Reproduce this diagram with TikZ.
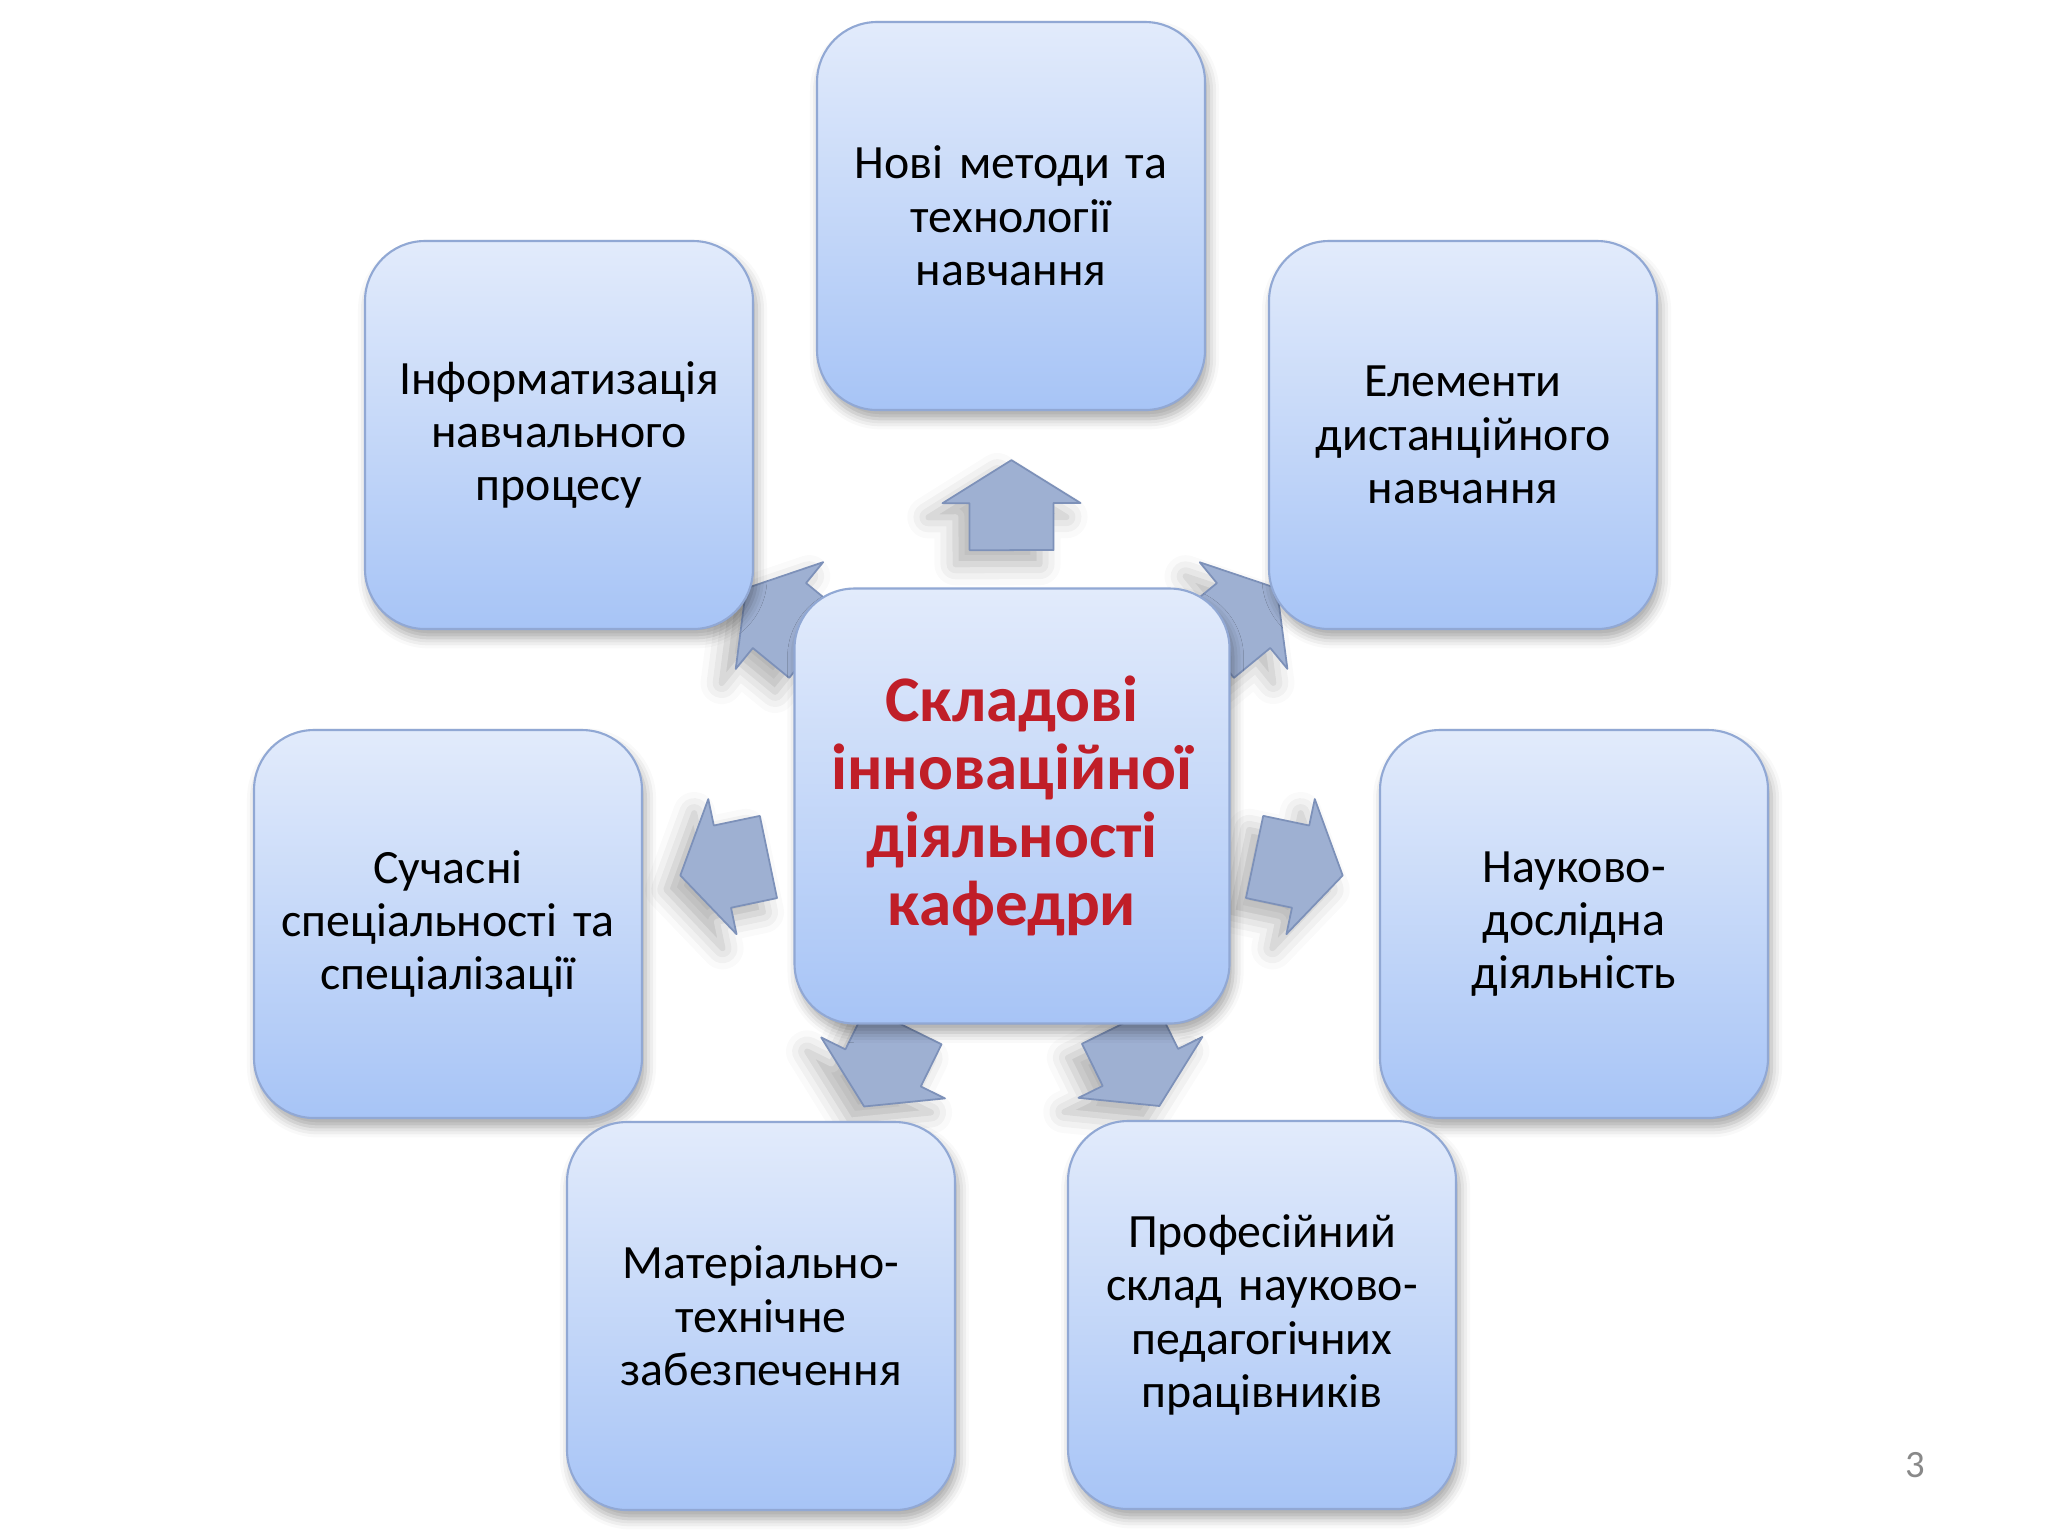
\documentclass[tikz,border=0pt]{standalone}
\usepackage{fontspec}
\setmainfont{Carlito}
\usetikzlibrary{shadows.blur,backgrounds}

\definecolor{boxtop}{RGB}{226,235,251}
\definecolor{boxbot}{RGB}{167,196,246}
\definecolor{boxline}{RGB}{145,168,212}
\definecolor{arrowfill}{RGB}{158,176,210}
\definecolor{arrowline}{RGB}{125,145,185}
\definecolor{titlered}{RGB}{192,30,40}
\definecolor{pagegrey}{RGB}{137,137,137}

\begin{document}
\begin{tikzpicture}[x=0.1mm, y=-0.1mm,
    part/.style = {rounded corners=0.6cm,
        draw=boxline, line width=0.6pt,
        top color=boxtop, bottom color=boxbot,
        minimum width=3.88cm, minimum height=3.88cm,
        text width=3.6cm, align=center,
        font=\fontsize{13.6}{15.2}\selectfont,
        blur shadow={shadow xshift=1pt, shadow yshift=-2.5pt,
            shadow blur radius=3pt, shadow opacity=35}},
    core/.style = {part,
        minimum width=4.35cm, minimum height=4.35cm,
        text width=4.1cm, text=titlered,
        font=\fontsize{18.5}{19.3}\selectfont\bfseries},
    barrow/.pic = {
        \filldraw[fill=arrowfill, draw=arrowline, line width=0.5pt,
            line join=round,
            blur shadow={shadow xshift=-4pt, shadow yshift=-4pt,
                shadow blur radius=6pt, shadow opacity=30}]
            (-45,-42) -- (2,-42) -- (2,-69) -- (45,0)
            -- (2,69) -- (2,42) -- (-45,42) -- cycle;
    }]

\useasboundingbox (0,0) rectangle (2048,1536);

% Centre
\node[core] (cent) at (1012,806) {Складові\\інноваційної\\діяльності\\кафедри};

% Components
\node[part] (nov) at (1011,216) {Нові методи та\\технології\\навчання};
\node[part] (inf) at (559,435) {Інформатизація\\навчального\\процесу};
\node[part] (dist) at (1463,435) {Елементи\\дистанційного\\навчання};
\node[part] (spec) at (448,924) {Сучасні\\спеціальності та\\спеціалізації};
\node[part] (nauk) at (1574,924) {Науково-\\дослідна\\діяльність};
\node[part] (mat) at (761,1316) {Матеріально-\\технічне\\забезпечення};
\node[part] (prof) at (1262,1315) {Професійний\\склад науково-\\педагогічних\\працівників};

% Arrows behind the boxes
\begin{pgfonlayer}{background}
\foreach \b in {nov,dist,nauk,prof,mat,spec,inf}
    \path (cent.center) -- (\b.center)
        pic[pos=0.51, sloped, allow upside down] {barrow};
\end{pgfonlayer}

% Slide number
\node[text=pagegrey, font=\fontsize{11}{13}\selectfont] (page) at (1915,1465) {3};
\end{tikzpicture}
\end{document}
